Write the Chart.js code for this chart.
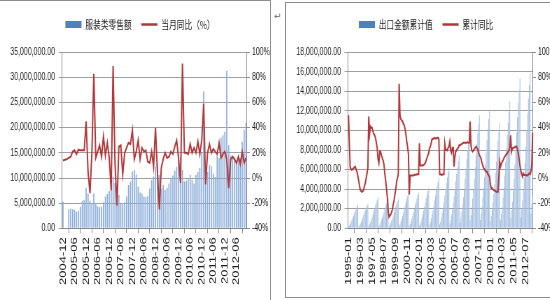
<!DOCTYPE html>
<html><head><meta charset="utf-8">
<script src="https://cdn.jsdelivr.net/npm/chart.js@4.4.0/dist/chart.umd.min.js"></script>
<style>
html,body{margin:0;padding:0;background:#fff;}
body{width:550px;height:300px;overflow:hidden;position:relative;}
.frame{position:absolute;border:1px solid #8d8d8d;overflow:hidden;}
.sq{position:absolute;left:0;transform:scaleX(0.7);transform-origin:0 0;}
#f1{left:-1px;top:0px;width:270px;height:320px;}
#f2{left:285px;top:2px;width:300px;height:294px;}
#mark{position:absolute;left:274px;top:11px;font:9px 'DejaVu Sans',sans-serif;color:#666;}
</style></head>
<body>
<div class="frame" id="f1"><div class="sq" style="top:-1px"><canvas id="c1" width="386" height="300"></canvas></div></div>
<div id="mark">↵</div>
<div class="frame" id="f2"><div class="sq" style="top:-3px"><canvas id="c2" width="386" height="300"></canvas></div></div>
<script>
// ---------- data ----------
function months(y, m, n){const out=[];for(let i=0;i<n;i++){out.push(y+'-'+String(m).padStart(2,'0'));m++;if(m>12){m=1;y++;}}return out;}
const retailCats = months(2004, 12, 96);    // 2004-12 .. 2012-11
const exportCats = months(1995, 1, 219);    // 1995-01 .. 2013-03

const retailName = '服装类零售额';
const retailYoYName = '当月同比（%）';
const exportName = '出口金额累计值';
const exportYoYName = '累计同比';

const retailSales = [
5300000,null,null,3800000,3900000,3800000,3700000,3300000,3500000,4300000,
5500000,5600000,8000000,6900000,5500000,5000000,6900000,5000000,4400000,4200000,
4300000,5200000,6300000,6800000,7400000,8600000,10300000,9000000,5500000,6600000,
5100000,5000000,5200000,6300000,8600000,9300000,11300000,11600000,10700000,8300000,
7100000,6900000,6300000,6200000,6400000,7900000,9600000,10300000,12300000,12900000,
10600000,7900000,8600000,7600000,8000000,8900000,9900000,10500000,11500000,12200000,
13900000,14200000,11600000,9300000,9500000,9900000,10600000,9600000,8900000,10600000,
11200000,12000000,15200000,27200000,12200000,11200000,12600000,12300000,10900000,10200000,
14500000,14000000,18000000,18500000,19200000,31300000,16500000,14500000,14000000,13500000,
13300000,14200000,14000000,17200000,19600000,21000000];

const retailYoY = [
14,14.5,15,16,17,21,22,19,22.5,22,
22,22,45,5,-12,20,83,16,21,26,
17,33,18,28,16,-10,89,12,-22,25,
26,3,20,24,28,27,38,15,21,30,
15,24,21,22,13,12,21,9,40,5,
-25,8,15,20,16,17,21,19,25,30,
15,-4,91,20,20,19,27,20,24,20,
29,19,30,59,-5,20,27,20,23,21,
19,28,16,19,21,15,-8,15,17,15,
12,17,11,21,12,16];

const exportCum = [
170000,310000,480000,670000,860000,1080000,1320000,1560000,1800000,2020000,2210000,2400000,
160000,300000,480000,680000,880000,1120000,1370000,1620000,1870000,2100000,2310000,2500000,
210000,390000,610000,860000,1120000,1410000,1740000,2060000,2380000,2670000,2930000,3180000,
220000,400000,610000,840000,1070000,1340000,1640000,1950000,2250000,2520000,2760000,3000000,
180000,350000,560000,790000,1030000,1310000,1620000,1930000,2240000,2520000,2770000,3000000,
240000,440000,700000,980000,1260000,1600000,1960000,2320000,2680000,3010000,3310000,3600000,
230000,430000,700000,990000,1290000,1630000,1990000,2350000,2720000,3050000,3360000,3660000,
280000,480000,780000,1100000,1430000,1820000,2240000,2660000,3080000,3460000,3810000,4130000,
350000,620000,1000000,1410000,1830000,2310000,2840000,3360000,3880000,4350000,4790000,5200000,
380000,690000,1130000,1620000,2120000,2700000,3350000,3990000,4630000,5200000,5720000,6190000,
480000,860000,1390000,1970000,2560000,3250000,4020000,4790000,5560000,6240000,6870000,7420000,
570000,1040000,1700000,2430000,3170000,4060000,5070000,6080000,7090000,7990000,8820000,9540000,
800000,1360000,2180000,3060000,3980000,5030000,6230000,7460000,8640000,9730000,10700000,11550000,
860000,1460000,2230000,3150000,4110000,5220000,6490000,7780000,9000000,10130000,11150000,12040000,
750000,1250000,1930000,2690000,3520000,4490000,5630000,6800000,7930000,8960000,9890000,10710000,
880000,1490000,2240000,3170000,4170000,5380000,6790000,8190000,9560000,10830000,11980000,12980000,
1060000,1820000,2720000,3850000,5070000,6530000,8170000,9810000,11390000,12850000,14160000,15320000,
1150000,1910000,2840000,3960000,5220000,6680000,8340000,10030000,11690000,13250000,14660000,15910000,
1550000,2450000,3300000];

const exportYoY = [
50,30,9,7,6.5,7,7.8,8.5,9,7,5,2,
-1.6,-6,-9.6,-10.5,-11,-10.5,-9.6,-6,-4,0,4,8,
49,35,41,40,40,37,35,34,32,28,24,15,
12,21,21,18,16,14,11,4,-2,-8,-15,-26,
-31,-30,-29,-27.5,-25,-21,-18,-13,-9,-3,0,3,
75,50,47,46,45,43,42,39,35,29,25,19,
-13,2,2,2,2,2,2.5,2.5,2.5,3,3,3,
27.6,10,10,10,10,10.5,11,12,14,16,18,20,
24,25,28,31,31,31.5,32,31.5,31.5,32,32,31,
3,3,2.5,2.5,3,3,27.5,22.5,22.5,22,24,25,
29,22,20,24,24,9,17,21,22,23.5,24,26,
26,26.5,27,27.5,28,28,28,28,28,28.5,28,28,
45,26,22,21,22,23,24,25,24,23,20,18,
17,15,12,10,8,7,6,5,5,3,2,1,
-5,-8,-8,-9,-9.6,-10,-10.5,-11,-11,-11,1,13,
9,11,13,14,15.7,17,18,19,19.6,21,22,24,
34,21,23.5,24,24,24.5,25,25,23,20,15,10,
6,3,1,3.7,2.4,2.4,2.4,2,2,3,3.7,3,
5,10,36];

const retailAxis = {max: 35000000, step: 5000000};
const exportAxis = {max: 18000000, step: 2000000};
const pctAxis = {min: -40, max: 100, step: 20};
const retailLabelEvery = 6;
const exportLabelEvery = 14;

// ---------- charts ----------
const RED = '#B3373A';
const TICKFONT = "'Liberation Sans', Arial, sans-serif";
const CJK = "'Noto Sans CJK SC', sans-serif";

function makeChart(id, cats, bars, line, barName, lineName, axis, every, barColor, barPct){
  return new Chart(document.getElementById(id), {
    type: 'bar',
    data: {
      labels: cats,
      datasets: [
        {type:'bar', label:barName, data:bars, yAxisID:'y', backgroundColor:barColor, borderWidth:0,
         barPercentage:barPct, categoryPercentage:1, order:1},
        {type:'line', label:lineName, data:line, yAxisID:'y1', borderColor:RED, borderWidth:2,
         pointRadius:0, tension:0, fill:false, spanGaps:true, order:0}
      ]
    },
    options: {
      responsive:false, maintainAspectRatio:false, animation:false,
      layout:{padding:{left:14, top:5, right:0, bottom:0}},
      plugins:{
        tooltip:{enabled:false},
        legend:{display:true, position:'top', align:'center',
          labels:{usePointStyle:true, pointStyleWidth:23, boxHeight:7, padding:14, color:'#222',
            font:{family:CJK, size:11},
            generateLabels:()=>[
              {text:barName, fillStyle:'#4F81BD', strokeStyle:'#4F81BD', lineWidth:0, pointStyle:'rect', hidden:false, datasetIndex:0, fontColor:'#222'},
              {text:lineName, fillStyle:RED, strokeStyle:RED, lineWidth:2.5, pointStyle:'line', hidden:false, datasetIndex:1, fontColor:'#222'}
            ]}},
        title:{display:true, text:'', weight:500, padding:{top:0, bottom:11.1}, font:{size:1}}
      },
      scales:{
        x:{type:'category', offset:true,
          grid:{display:true, drawOnChartArea:false, drawTicks:true, tickLength:5, color:'#888'},
          border:{color:'#888'},
          ticks:{autoSkip:false, maxRotation:90, minRotation:90, padding:4, color:'#1a1a1a',
            font:{family:TICKFONT, size:13},
            callback:(v,i)=> (i % every === 0 ? cats[i] : null)},
          afterFit:s=>{s.height = 71.7;}},
        y:{position:'left', min:0, max:axis.max,
          ticks:{stepSize:axis.step, padding:5, color:'#1a1a1a', font:{family:TICKFONT, size:10},
            callback:v=>Number(v).toLocaleString('en-US',{minimumFractionDigits:2, maximumFractionDigits:2})},
          grid:{color:'#a0a0a0', tickLength:5}, border:{color:'#888'},
          afterFit:s=>{s.width = 74.6;}},
        y1:{position:'right', min:pctAxis.min, max:pctAxis.max,
          ticks:{stepSize:pctAxis.step, padding:3, color:'#1a1a1a', font:{family:TICKFONT, size:10},
            callback:v=>v+'%'},
          grid:{drawOnChartArea:false, tickLength:4, color:'#888'}, border:{color:'#888'},
          afterFit:s=>{s.width = 33.1;}}
      }
    }
  });
}

makeChart('c1', retailCats, retailSales, retailYoY, retailName, retailYoYName, retailAxis, retailLabelEvery, '#8AACD8', 0.6);
makeChart('c2', exportCats, exportCum, exportYoY, exportName, exportYoYName, exportAxis, exportLabelEvery, '#A3BEE0', 0.8);
</script>
</body></html>
